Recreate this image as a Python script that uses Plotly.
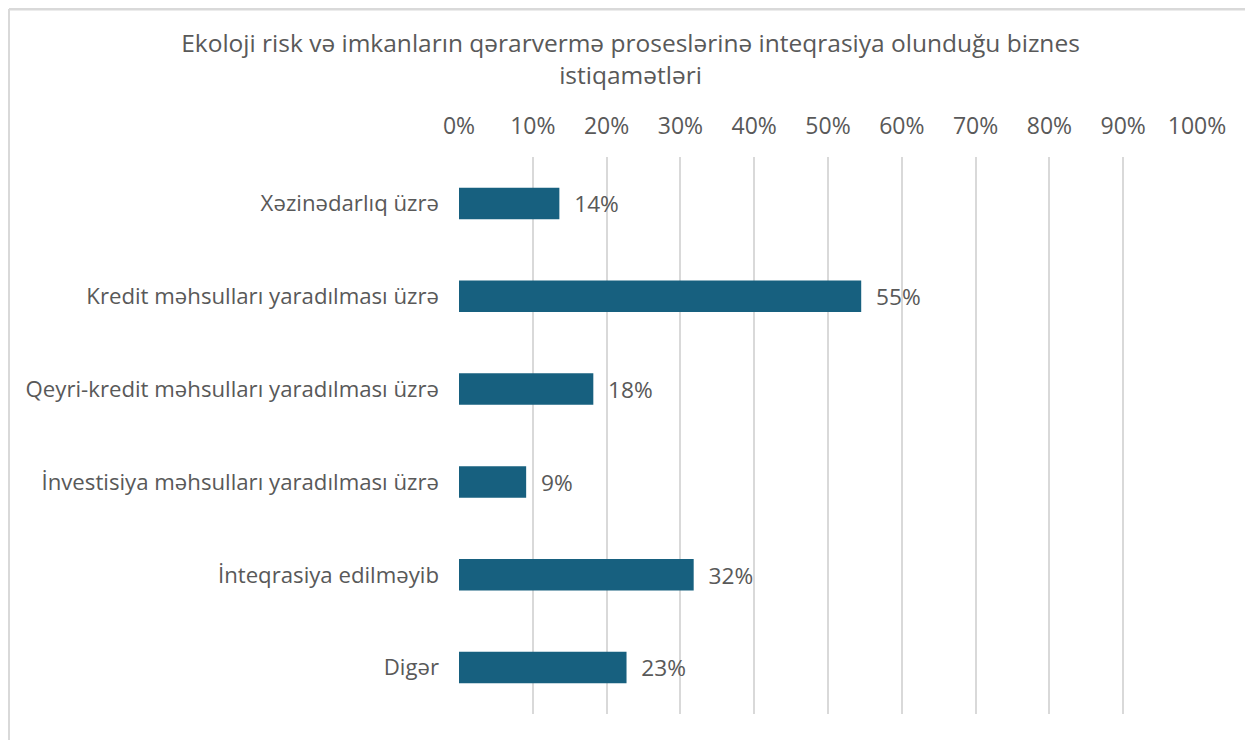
import plotly.graph_objects as go

categories = [
    "Xəzinədarlıq üzrə",
    "Kredit məhsulları yaradılması üzrə",
    "Qeyri-kredit məhsulları yaradılması üzrə",
    "İnvestisiya məhsulları yaradılması üzrə",
    "İnteqrasiya edilməyib",
    "Digər",
]
values = [0.136, 0.545, 0.182, 0.091, 0.318, 0.227]
tick_vals = [0, 0.1, 0.2, 0.3, 0.4, 0.5, 0.6, 0.7, 0.8, 0.9, 1.0]
tick_text = ["0%", "10%", "20%", "30%", "40%", "50%", "60%", "70%", "80%", "90%", "100%"]

FONT = "Open Sans, Roboto, sans-serif"
GREY = "#595959"

W, H = 1245, 732
L, R, T, B = 451, 56, 149, 26
PW = W - L - R
PH = H - T - B

fig = go.Figure(
    go.Bar(
        x=values,
        y=categories,
        orientation="h",
        marker=dict(color="#17607f", line=dict(color="#17607f", width=0)),
        text=["  " + f"{v:.0%}" for v in values],
        textposition="outside",
        textfont=dict(family=FONT, size=23, color=GREY),
        cliponaxis=False,
        width=0.34,
    )
)

x_left = (1 - L) / PW
x_right = (W - 1 - L) / PW

fig.update_layout(
    width=W,
    height=H,
    paper_bgcolor="white",
    plot_bgcolor="white",
    margin=dict(l=L, r=R, t=T, b=B),
    title=dict(
        text="Ekoloji risk və imkanların qərarvermə proseslərinə inteqrasiya olunduğu biznes<br>istiqamətləri",
        x=0.5,
        xanchor="center",
        y=0.940,
        yanchor="top",
        font=dict(family=FONT, size=24.5, color=GREY),
    ),
    showlegend=False,
    xaxis=dict(
        side="top",
        range=[0, 1],
        tickvals=tick_vals,
        ticktext=tick_text,
        showgrid=True,
        gridcolor="#d9d9d9",
        gridwidth=2,
        zeroline=False,
        showline=False,
        ticks="",
        tickfont=dict(family=FONT, size=23, color=GREY),
        ticklabelstandoff=17,
    ),
    yaxis=dict(
        autorange="reversed",
        showgrid=False,
        showline=False,
        ticks="",
        tickfont=dict(family=FONT, size=22.2, color=GREY),
        ticklabelstandoff=19,
    ),
    shapes=[
        dict(
            type="line", xref="paper", yref="paper",
            x0=x_left, x1=x_left, y0=-0.2, y1=1 + (T - 1) / PH,
            line=dict(color="#d9d9d9", width=2), layer="above",
        ),
        dict(
            type="line", xref="paper", yref="paper",
            x0=x_left, x1=x_right, y0=1 + (T - 1) / PH, y1=1 + (T - 1) / PH,
            line=dict(color="#d9d9d9", width=3), layer="above",
        ),
    ],
)

fig.write_html("out.html")
